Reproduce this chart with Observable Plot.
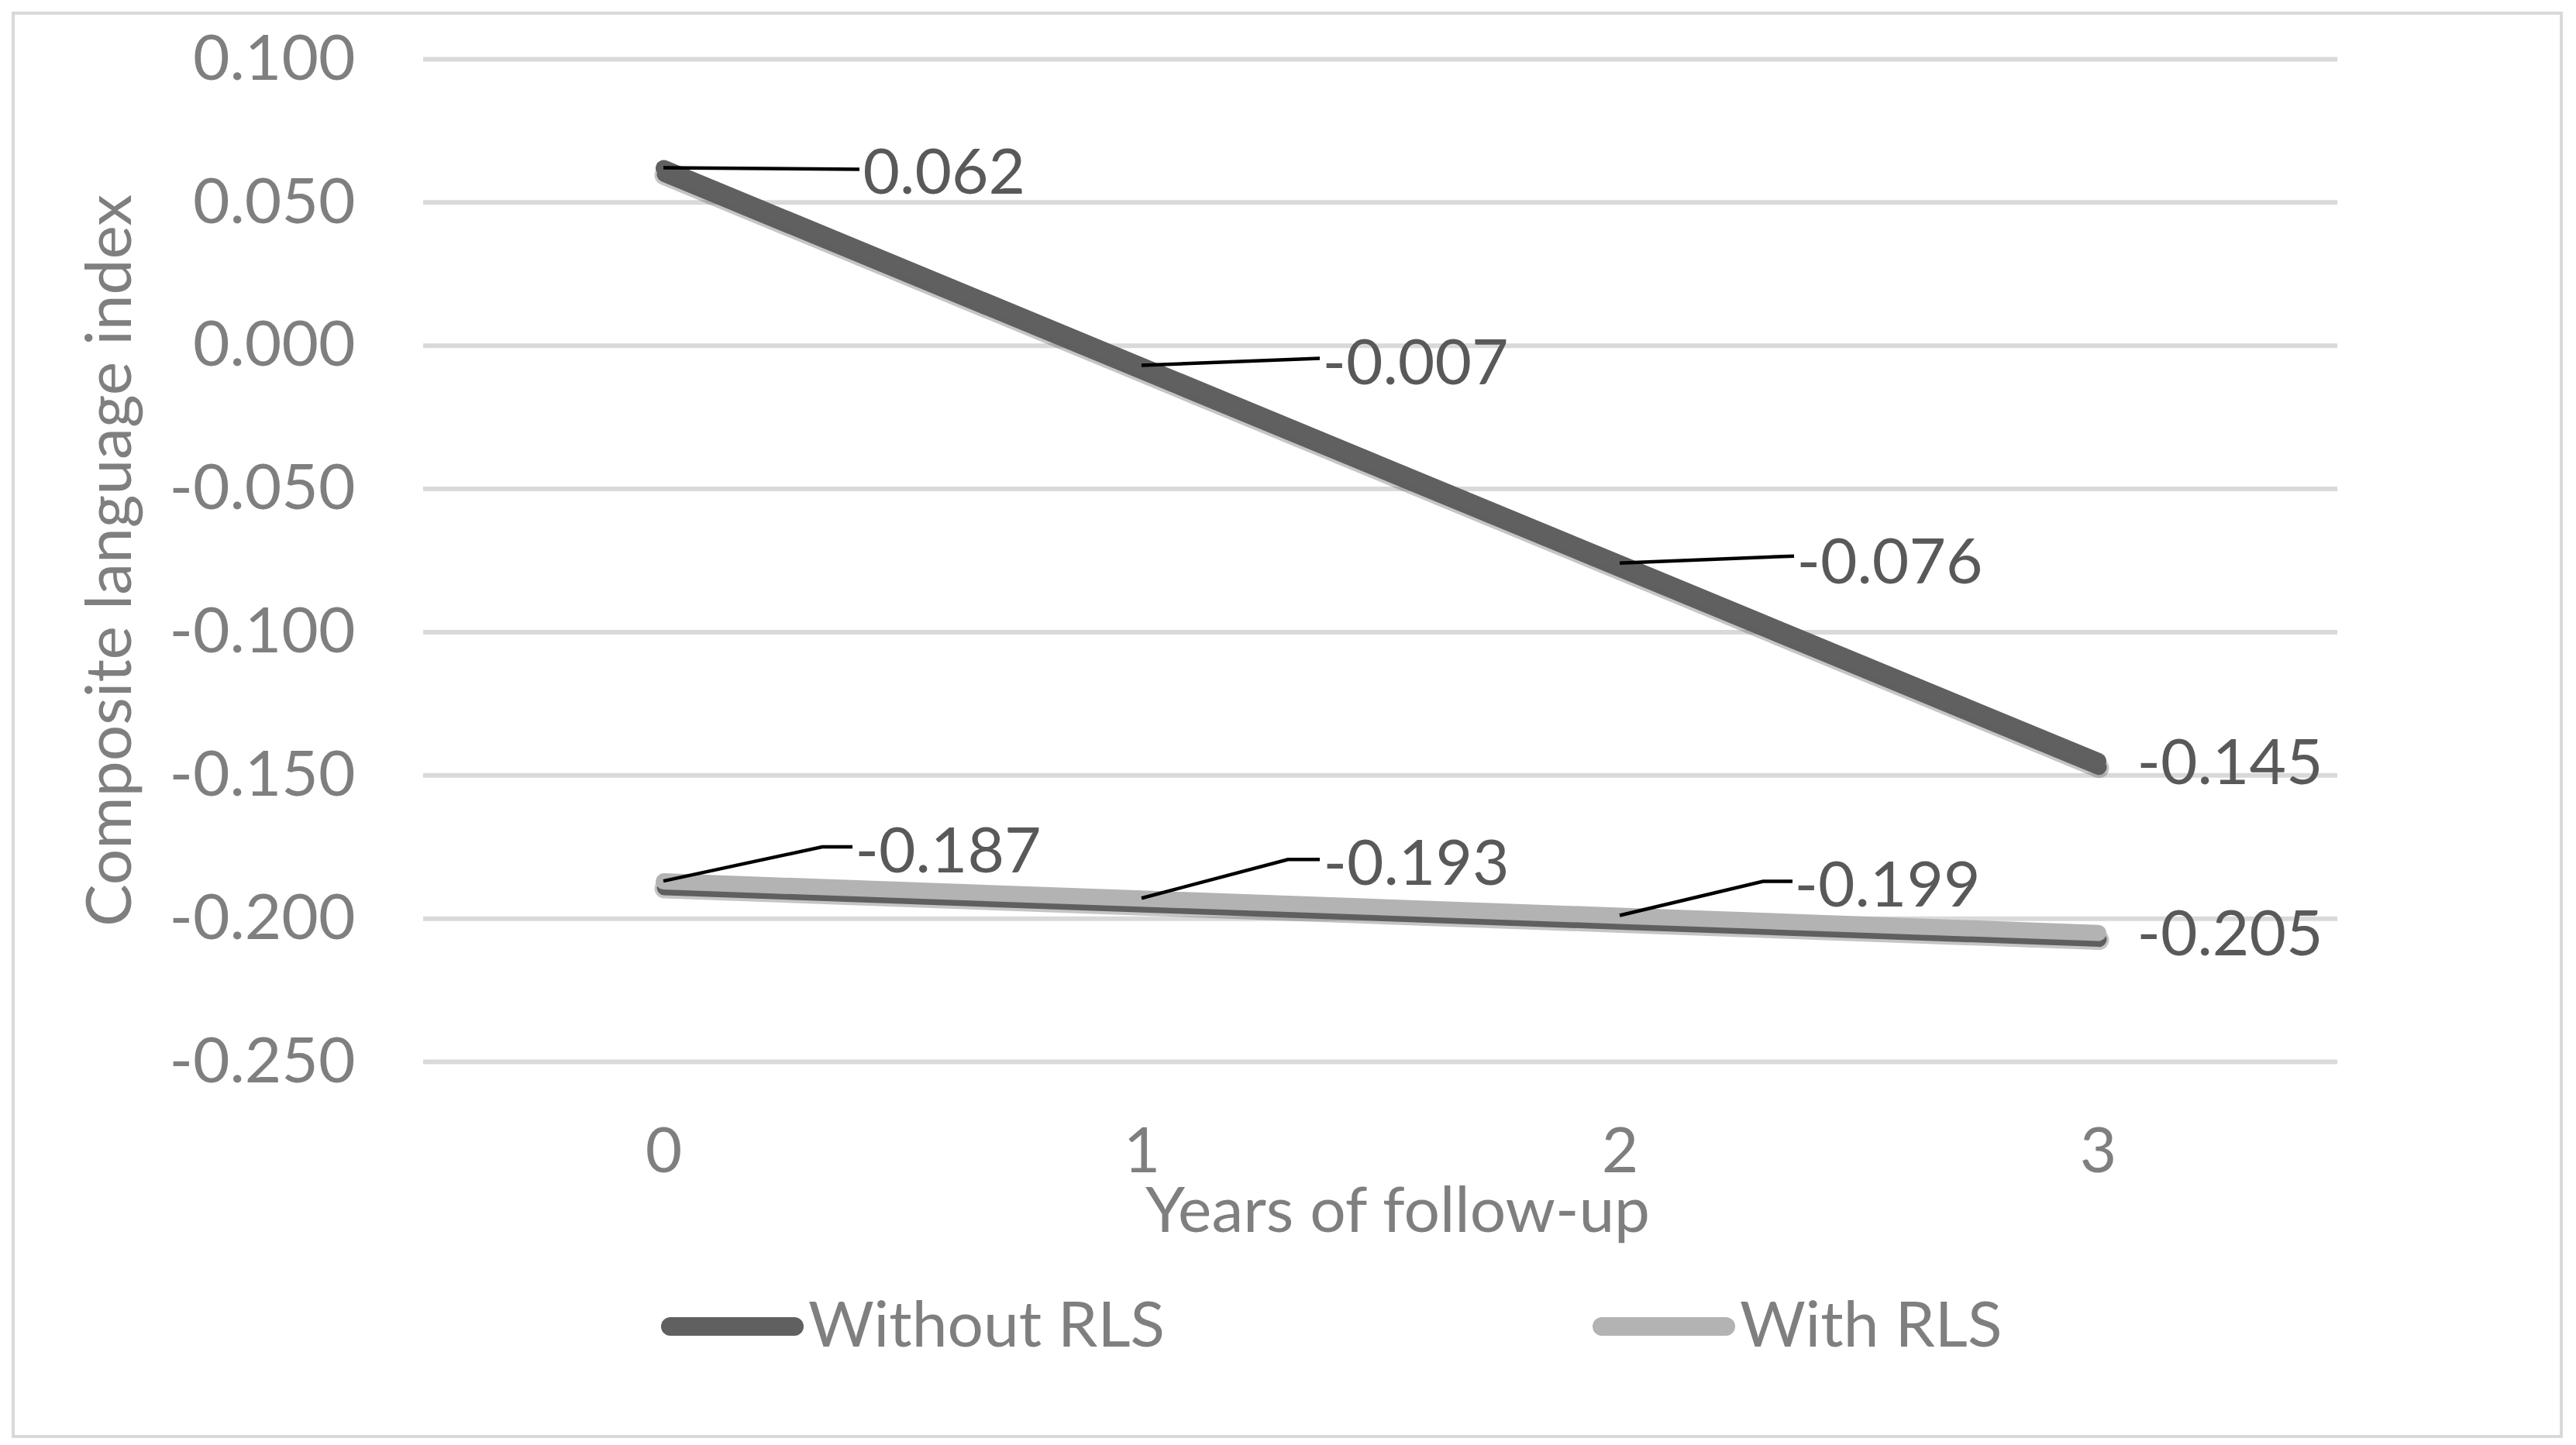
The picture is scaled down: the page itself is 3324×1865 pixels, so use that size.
<!DOCTYPE html>
<html>
<head>
<meta charset="utf-8">
<script src="https://cdn.jsdelivr.net/npm/d3@7"></script>
<script src="https://cdn.jsdelivr.net/npm/@observablehq/plot@0.6"></script>
<style>
  html, body { margin: 0; padding: 0; background: #fff; }
  body { font-family: Lato, "Open Sans", sans-serif; }
  #wrap { position: relative; width: 3324px; height: 1865px; overflow: hidden; }
  #frame { position: absolute; left: 15px; top: 15px; width: 3284px; height: 1833px; border: 4px solid #d9d9d9; box-sizing: content-box; pointer-events: none; }
  #chart { position: absolute; left: 0; top: 0; }
  .leg-swatch { position: absolute; height: 24px; border-radius: 12px; }
  .leg-text { position: absolute; font-size: 82px; color: #7f7f7f; line-height: normal; white-space: nowrap; font-family: Lato, sans-serif; }
</style>
</head>
<body>
<div id="wrap">
  <div id="chart"></div>
  <div id="legend"></div>
  <div id="frame"></div>
</div>
<script>
// ---- Data ----
const years = [0, 1, 2, 3];
const seriesNames = ["Without RLS", "With RLS"];
const withoutRLS = [0.062, -0.007, -0.076, -0.145];
const withRLS = [-0.187, -0.193, -0.199, -0.205];
const yTicks = [0.1, 0.05, 0, -0.05, -0.1, -0.15, -0.2, -0.25];
const xTitle = "Years of follow-up";
const yTitle = "Composite language index";

// ---- Layout of data labels (pixel offsets from each point) ----
const labelLayout = [
  // Without RLS
  { leader: [[253, 2]], label: [257, 4] },
  { leader: [[230, -9]], label: [233, -5] },
  { leader: [[225, -9]], label: [228, -3] },
  { leader: [], label: [50, 0] },
  // With RLS
  { leader: [[205, -44], [244, -44]], label: [247, -41] },
  { leader: [[189, -50], [230, -50]], label: [234, -47] },
  { leader: [[185, -44], [223, -44]], label: [225, -41] },
  { leader: [], label: [50, 0] }
];

const colors = { "Without RLS": "#606060", "With RLS": "#b3b3b3" };

const rows = [
  ...years.map((y, i) => ({ series: seriesNames[0], year: y, value: withoutRLS[i] })),
  ...years.map((y, i) => ({ series: seriesNames[1], year: y, value: withRLS[i] }))
];
const fmt = v => v.toFixed(3);

function leaderMark(...args) {
  const scales = args.find(a => a && typeof a.x === "function" && typeof a.y === "function");
  const g = d3.create("svg:g").attr("aria-label", "leader");
  rows.forEach((r, i) => {
    const lay = labelLayout[i];
    if (!lay.leader.length) return;
    const px = scales.x(r.year), py = scales.y(r.value);
    const pts = [[px, py], ...lay.leader.map(([dx, dy]) => [px + dx, py + dy])];
    g.append("path")
      .attr("d", d3.line()(pts))
      .attr("fill", "none")
      .attr("stroke", "#000")
      .attr("stroke-width", 4.5)
      .attr("stroke-linejoin", "miter");
  });
  return g.node();
}

const lineOpts = { x: "year", y: "value", strokeLinecap: "round", strokeLinejoin: "round" };
const lineMarks = [];
seriesNames.forEach(s => {
  const data = rows.filter(r => r.series === s);
  // soft drop shadow (outer halo + core), then the line itself
  lineMarks.push(Plot.line(data, { ...lineOpts, stroke: "#5a5a5a", strokeOpacity: 0.35, strokeWidth: 26, dx: 1, dy: 9 }));
  lineMarks.push(Plot.line(data, { ...lineOpts, stroke: "#5a5a5a", strokeOpacity: 0.95, strokeWidth: 20, dx: 1, dy: 8 }));
  lineMarks.push(Plot.line(data, { ...lineOpts, stroke: colors[s], strokeWidth: 21 }));
});

const labelMarks = rows.map((r, i) => Plot.text([r], {
  x: "year", y: "value", text: d => fmt(d.value),
  dx: labelLayout[i].label[0], dy: labelLayout[i].label[1] + 3,
  textAnchor: "start", lineAnchor: "middle",
  fill: "#595959", fontSize: 82, fontFamily: "Lato"
}));

const chart = Plot.plot({
  width: 3324,
  height: 1640,
  marginLeft: 546,
  marginRight: 308,
  marginTop: 76,
  marginBottom: 270,
  style: { fontFamily: "Lato", fontSize: "82px", color: "#7f7f7f", background: "transparent", overflow: "visible" },
  x: { type: "point", domain: years, padding: 0.5, label: null },
  y: { domain: [-0.25, 0.1], label: null },
  marks: [
    Plot.gridY(yTicks, { stroke: "#d9d9d9", strokeWidth: 6, strokeOpacity: 1 }),
    Plot.axisY(yTicks, { tickSize: 0, tickPadding: 88, tickFormat: fmt, fill: "#7f7f7f", fontSize: 82, label: null }),
    Plot.axisX(years, { tickSize: 0, tickPadding: 84, fill: "#7f7f7f", fontSize: 82, label: null }),
    ...lineMarks,
    leaderMark,
    ...labelMarks,
    Plot.text([xTitle], { text: d => d, frameAnchor: "bottom", dx: 22, dy: 219, lineAnchor: "bottom", textAnchor: "middle", fill: "#7f7f7f", fontSize: 82 }),
    Plot.text([yTitle], { text: d => d, frameAnchor: "left", dx: -378, rotate: -90, lineAnchor: "bottom", textAnchor: "middle", fill: "#7f7f7f", fontSize: 82 })
  ]
});

document.getElementById("chart").appendChild(chart);

// ---- Legend (HTML, below the SVG) ----
const legend = document.getElementById("legend");
const legendPos = [
  { swatchLeft: 853, text: 1043 },
  { swatchLeft: 2055, text: 2245 }
];
seriesNames.forEach((s, i) => {
  const sw = document.createElement("div");
  sw.className = "leg-swatch";
  sw.style.left = legendPos[i].swatchLeft + "px";
  sw.style.top = "1700px";
  sw.style.width = "184px";
  sw.style.background = colors[s];
  legend.appendChild(sw);
  const t = document.createElement("div");
  t.className = "leg-text";
  t.style.left = legendPos[i].text + "px";
  t.style.top = "1657px";
  t.textContent = s;
  legend.appendChild(t);
});
</script>
</body>
</html>
